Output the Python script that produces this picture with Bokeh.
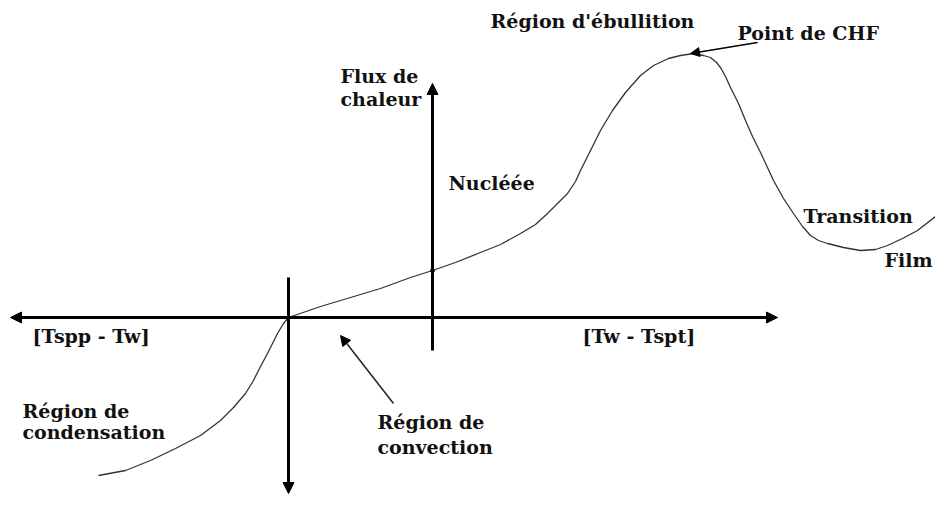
from bokeh.plotting import figure
from bokeh.models import Range1d, Arrow, NormalHead
from bokeh.core.properties import value
from bokeh.embed import file_html
from bokeh.resources import INLINE

# Boiling curve (x: wall superheat, y: heat flux; image pixel units, y downward)
curve_x = [98, 125, 150, 175, 200, 220, 233, 245, 253, 260, 267, 277, 283, 288,
           320, 350, 380, 410, 432, 455, 480, 500, 520, 535, 547, 558, 567, 575, 580,
           590, 600, 612, 625, 640, 653, 668, 680, 693, 703, 710, 716, 720, 725, 730,
           738, 745, 752, 760, 767, 773, 783, 793, 802, 810, 818, 827, 843, 860, 875,
           887, 902, 917, 935, 950]
curve_y = [475, 470, 460, 448, 435, 420, 407, 393, 380, 366, 353, 333, 323, 317,
           306, 297, 288, 277, 270, 262, 252, 244, 233, 224, 213, 202, 193, 181, 170,
           150, 130, 110, 92, 75, 65, 58, 55, 53, 55, 57, 62, 67, 76, 87,
           103, 120, 136, 152, 167, 180, 198, 213, 226, 235, 240, 243, 247, 250, 249,
           245, 238, 230, 216, 203]

labels = ["Région d'ébullition", "Point de CHF", "Flux de", "chaleur", "Nucléée",
          "Transition", "Film", "[Tspp - Tw]", "[Tw - Tspt]", "Région de", "condensation",
          "Région de", "convection"]
label_x = [490, 737, 340, 340, 448, 803, 884, 32, 582, 22, 22, 377, 377]
label_y = [20, 32, 75, 98, 182, 215, 259, 335, 335, 410, 431, 421, 446]

p = figure(width=935, height=495, output_backend="svg", toolbar_location=None,
           x_range=Range1d(0, 935), y_range=Range1d(495, 0), min_border=0)
p.axis.visible = False
p.grid.visible = False
p.outline_line_color = None
p.background_fill_color = "white"
p.border_fill_color = "white"

def head(s):
    return NormalHead(size=s, fill_color="black", line_color="black")

# axes drawn as arrows
p.add_layout(Arrow(start=head(11), end=head(11),
                   x_start=10, y_start=317, x_end=777, y_end=317,
                   line_width=3, line_color="black"))
p.add_layout(Arrow(end=head(11),
                   x_start=432, y_start=350, x_end=432, y_end=83,
                   line_width=3, line_color="black"))
p.add_layout(Arrow(end=head(11),
                   x_start=288, y_start=277, x_end=288, y_end=493,
                   line_width=3, line_color="black"))

# annotation arrows
p.add_layout(Arrow(end=head(9),
                   x_start=757, y_start=42, x_end=690, y_end=53,
                   line_width=1.5, line_color="black"))
p.add_layout(Arrow(end=head(10),
                   x_start=393, y_start=403, x_end=340, y_end=335,
                   line_width=1.5, line_color="#222222"))

p.line(curve_x, curve_y, line_width=1.3, line_color="#333333")
p.scatter([432], [270], size=4, color="#222222")

p.text(x=label_x, y=label_y, text=labels, text_font=value("DejaVu Serif"),
       text_font_style="bold", text_font_size="19px", text_baseline="middle",
       text_align="left", text_color="#111111")

open("out.html", "w").write(file_html(p, INLINE))
